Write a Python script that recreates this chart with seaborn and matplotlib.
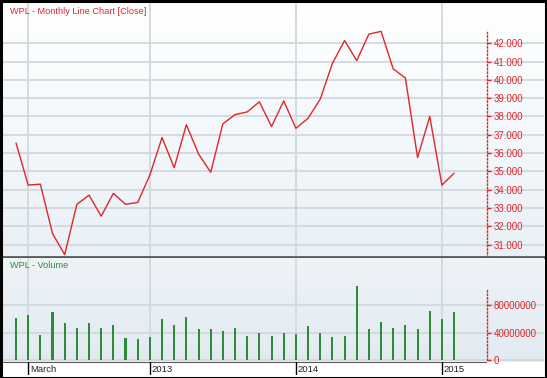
import numpy as np
import pandas as pd
import matplotlib
matplotlib.use("Agg")
import matplotlib.pyplot as plt
import seaborn as sns
from matplotlib.patches import Rectangle
from matplotlib.ticker import FixedLocator, FuncFormatter

sns.set_theme(style="white")
plt.rcParams['font.family'] = ['Liberation Sans', 'DejaVu Sans']

months = ["2012-02", "2012-03", "2012-04", "2012-05", "2012-06", "2012-07", "2012-08",
          "2012-09", "2012-10", "2012-11", "2012-12", "2013-01", "2013-02", "2013-03",
          "2013-04", "2013-05", "2013-06", "2013-07", "2013-08", "2013-09", "2013-10",
          "2013-11", "2013-12", "2014-01", "2014-02", "2014-03", "2014-04", "2014-05",
          "2014-06", "2014-07", "2014-08", "2014-09", "2014-10", "2014-11", "2014-12",
          "2015-01", "2015-02"]
close = [36.55, 34.25, 34.3, 31.6, 30.45, 33.2, 33.7, 32.55, 33.8, 33.2, 33.3, 34.8,
         36.85, 35.2, 37.55, 35.95, 34.95, 37.6, 38.1, 38.25, 38.8, 37.45, 38.85, 37.35,
         37.9, 38.95, 40.9, 42.15, 41.05, 42.5, 42.65, 40.6, 40.1, 35.75, 38.0, 34.25, 34.9]
volume = [60.5e6, 65.5e6, 36.5e6, 69.5e6, 53.5e6, 46e6, 53.5e6, 46e6, 51.5e6, 31.5e6,
          30e6, 34e6, 59e6, 50.5e6, 63e6, 45e6, 45e6, 41.5e6, 46.5e6, 35e6, 39e6, 34.5e6,
          40e6, 38e6, 49e6, 39e6, 34e6, 35.5e6, 107.5e6, 45e6, 55.5e6, 46.5e6, 51.5e6,
          45e6, 71e6, 59e6, 70e6]
label_months = ["2012-03", "2013-01", "2014-01", "2015-01"]
label_texts = ["March", "2013", "2014", "2015"]
price_ticks = [31, 32, 33, 34, 35, 36, 37, 38, 39, 40, 41, 42]
vol_ticks = [0, 40000000, 80000000]

idx = np.arange(len(months))
df = pd.DataFrame({"i": idx, "close": close, "volume": volume})
label_idx = [months.index(m) for m in label_months]

W, H = 547, 378
def rect(x0, y0, x1, y1):
    return [x0 / W, 1 - y1 / H, (x1 - x0) / W, (y1 - y0) / H]

RED = "#e0262b"
GREEN = "#2f8a3a"
GRID = "#d3d8dc"
XL = (-1.07, 43.39)
SPX = 0.894

fig = plt.figure(figsize=(W / 100, H / 100), dpi=100)
fig.patch.set_facecolor("white")

ax_p = fig.add_axes(rect(3, 3, 544, 257))
ax_v = fig.add_axes(rect(3, 258, 544, 362))
ax_s = fig.add_axes(rect(3, 362, 544, 375))

def gradient(ax, top, bottom):
    c1 = np.array(matplotlib.colors.to_rgb(top))
    c2 = np.array(matplotlib.colors.to_rgb(bottom))
    t = np.linspace(0, 1, 100)[:, None]
    img = (c1 * (1 - t) + c2 * t)[:, None, :]
    ax.imshow(img, extent=[0, 1, 0, 1], transform=ax.transAxes, aspect="auto", zorder=0)

gradient(ax_p, "#ffffff", "#e9f1f6")
gradient(ax_v, "#eef3f7", "#e1ebf1")

def dotted_spine(sp, lo, hi):
    sp.set_position(("axes", SPX))
    sp.set_color(RED)
    sp.set_linestyle((0, (1.0, 1.6)))
    sp.set_linewidth(1.0)
    sp.set_bounds(lo, hi)

# price panel
sns.lineplot(data=df, x="i", y="close", color=RED, linewidth=1.0, ax=ax_p, zorder=3)
ax_p.set_xlim(*XL)
ax_p.set_ylim(30.32, 44.2)
ax_p.set_xlabel("")
ax_p.set_ylabel("")
ax_p.set_xticks([])
ax_p.yaxis.set_major_locator(FixedLocator(price_ticks))
ax_p.yaxis.set_major_formatter(FuncFormatter(lambda v, p: f"{v:.3f}"))
ax_p.yaxis.set_ticks_position("right")
ax_p.tick_params(axis="y", colors=RED, labelcolor=RED, length=3, width=1,
                 direction="out", pad=2, labelsize=7)
ax_p.grid(axis="y", color=GRID, linewidth=1.3, zorder=1)
for s in ["top", "left"]:
    ax_p.spines[s].set_visible(False)
ax_p.spines["bottom"].set_color("#5a5a5a")
ax_p.spines["bottom"].set_linewidth(2)
dotted_spine(ax_p.spines["right"], 30.32, 42.6)
for li in label_idx:
    ax_p.axvline(li, color=GRID, linewidth=1.3, zorder=1)
ax_p.text(7 / 541, 1 - 9 / 254, "WPL - Monthly Line Chart [Close]", transform=ax_p.transAxes,
          color=RED, fontsize=6.6, va="center", ha="left")

# volume panel
sns.barplot(data=df, x="i", y="volume", native_scale=True, width=0.17, color=GREEN,
            linewidth=0, antialiased=False, ax=ax_v, zorder=3, saturation=1)
ax_v.set_xlim(*XL)
ax_v.set_ylim(-2.9e6, 148.4e6)
ax_v.set_xlabel("")
ax_v.set_ylabel("")
ax_v.set_xticks([])
ax_v.yaxis.set_major_locator(FixedLocator(vol_ticks))
ax_v.yaxis.set_major_formatter(FuncFormatter(lambda v, p: f"{int(v)}"))
ax_v.yaxis.set_ticks_position("right")
ax_v.tick_params(axis="y", colors=RED, labelcolor=RED, length=3, width=1,
                 direction="out", pad=2, labelsize=7)
ax_v.grid(axis="y", color=GRID, linewidth=1.3, zorder=1)
for s in ["top", "left", "bottom"]:
    ax_v.spines[s].set_visible(False)
dotted_spine(ax_v.spines["right"], 0, 105e6)
for li in label_idx:
    ax_v.axvline(li, color=GRID, linewidth=1.3, zorder=1)
ax_v.text(7 / 541, 1 - 8 / 104, "WPL - Volume", transform=ax_v.transAxes,
          color=GREEN, fontsize=6.6, va="center", ha="left")

# label strip
ax_s.set_xlim(*XL)
ax_s.set_ylim(0, 1)
ax_s.axis("off")
ax_s.axhline(1, xmin=0, xmax=0.893, color="#5a5a5a", linewidth=1.5)
for li, t in zip(label_idx, label_texts):
    ax_s.axvline(li, color="black", linewidth=1.0)
    ax_s.text(li + 0.15, 0.45, t, color="#222222", fontsize=6.8, va="center", ha="left")

fig.add_artist(Rectangle((0.5 / W, 0.5 / H), 1 - 1.5 / W, 1 - 1.5 / H, transform=fig.transFigure,
                         fill=False, edgecolor="black", linewidth=2.2))

fig.savefig("out.png", dpi=100)
